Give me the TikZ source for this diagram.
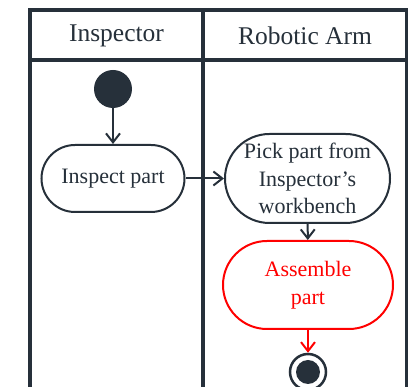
\documentclass[tikz,border=0pt]{standalone}
\usepackage{fontspec}
\setmainfont{Liberation Serif}
\usetikzlibrary{arrows.meta}
\definecolor{ink}{RGB}{38,48,58}
\definecolor{hot}{RGB}{255,0,0}
\begin{document}
\begin{tikzpicture}[x=1pt,y=-1pt,
  lane/.style={draw=ink,line width=4.5pt},
  action/.style={draw=ink,line width=2pt,fill=white,text=ink,align=center,
    inner sep=0pt,font=\fontsize{22}{27.5}\selectfont},
  flow/.style={draw=ink,line width=2pt,-{Straight Barb[length=9pt,width=14pt,line width=2pt]}},
  lanetitle/.style={text=ink,font=\fontsize{25.5}{30}\selectfont}]
\useasboundingbox (0,0) rectangle (408,387);
% swimlane frame
\draw[lane] (30,400) -- (30,10) -- (410,10);
\draw[lane] (407,10) -- (407,400);
\draw[lane] (30,60) -- (410,60);
\draw[lane] (203,10) -- (203,400);
\node[lanetitle] (h1) at (116.5,36) {Inspector};
\node[lanetitle] (h2) at (305,36) {Robotic Arm};
% activities
\node[circle,fill=ink,minimum size=38pt,inner sep=0pt] (start) at (113,89) {};
\node[action,minimum width=143pt,minimum height=67pt,rounded corners=33.5pt] (inspect) at (113,178.5) {Inspect part};
\node[action,minimum width=165pt,minimum height=89pt,rounded corners=44.5pt] (pick) at (307.5,178.5) {Pick part from\\Inspector's\\workbench};
\node[action,draw=hot,text=hot,minimum width=170pt,minimum height=88pt,rounded corners=44pt] (assemble) at (308,285) {Assemble\\part};
\node[circle,draw=ink,line width=2.5pt,minimum size=36pt,inner sep=0pt] (stop) at (308,372) {};
\node[circle,fill=ink,minimum size=24pt,inner sep=0pt] (stopdot) at (stop) {};
% control flow
\draw[flow] (start) -- (inspect);
\draw[flow] (inspect) -- (pick);
\draw[flow] (pick) -- (assemble);
\draw[flow,draw=hot] (assemble) -- (stop);
\end{tikzpicture}
\end{document}
